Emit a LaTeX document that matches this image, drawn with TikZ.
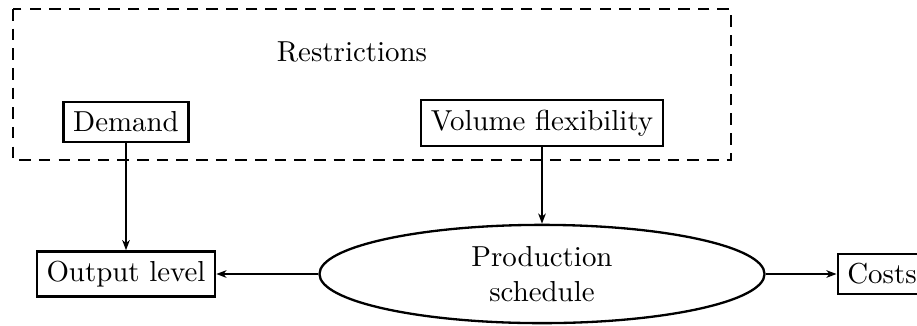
\documentclass[tikz,border=0pt]{standalone}
\usetikzlibrary{shapes.geometric,arrows.meta}
\begin{document}
\begin{tikzpicture}[x=0.346pt,y=-0.346pt,
  box/.style={draw,line width=0.8pt,inner sep=3.33pt},
  oval/.style={draw,ellipse,line width=0.8pt,minimum width=154pt,minimum height=34pt,inner sep=0pt,align=center},
  arr/.style={-{Stealth[length=3.5pt,width=2.6pt,inset=1pt]},line width=0.8pt},
  dashbox/.style={line width=0.9pt,dash pattern=on 4pt off 2.8pt}]
\useasboundingbox (0,0) rectangle (917,325);
\draw[dashbox] (13,9) rectangle (731,160);
\node (restr) at (352,52) {Restrictions};
\node[box] (demand) at (126,122) {Demand};
\node[box] (vol) at (542,123) {Volume flexibility};
\node[box] (out) at (126,274) {Output level};
\node[oval] (prod) at (542,274) {Production\\schedule};
\node[box] (costs) at (882,274) {Costs};
\draw[arr] (demand.south) -- (out.north);
\draw[arr] (vol.south) -- (prod.north);
\draw[arr] (prod.west) -- (out.east);
\draw[arr] (prod.east) -- (costs.west);
\end{tikzpicture}
\end{document}
